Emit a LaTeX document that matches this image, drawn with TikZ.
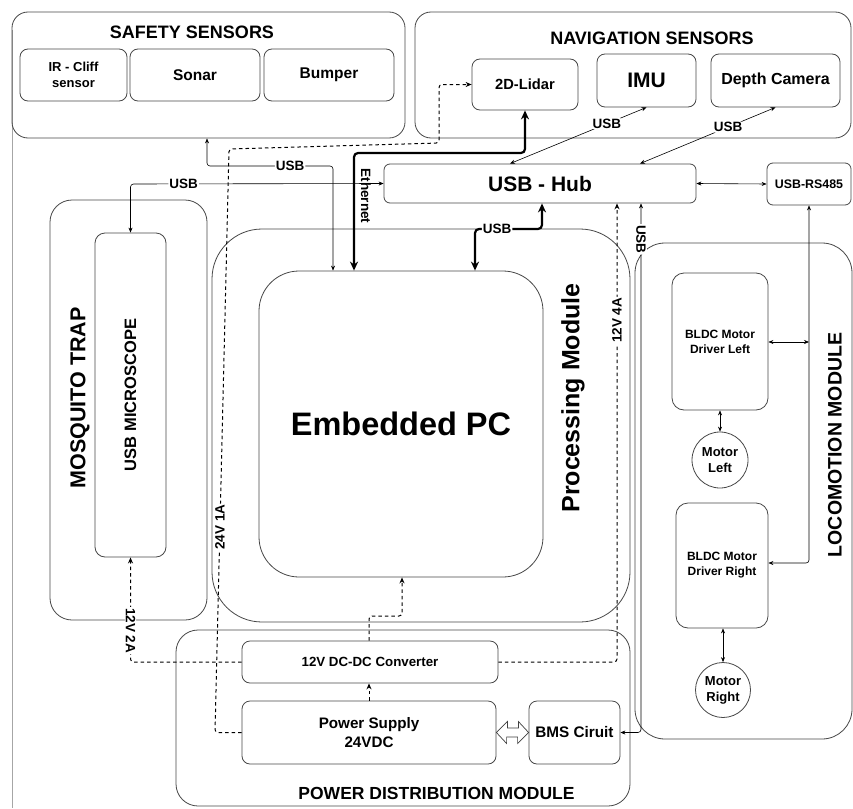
\documentclass[tikz,border=0pt]{standalone}
\usepackage{fontspec}
\setmainfont{Liberation Sans}
\usetikzlibrary{arrows.meta,calc}
\newcommand\myfs[2]{\fontsize{#1}{#2}\selectfont}
\begin{document}
\begin{tikzpicture}[x=1pt,y=-1pt,
  box/.style={draw=black!72, line width=0.8pt, rounded corners=#1, align=center, inner sep=0pt},
  box/.default=8pt,
  ar/.style={line width=0.6pt, black, {Stealth[length=5pt,width=4pt]}-{Stealth[length=5pt,width=4pt]}, rounded corners=3pt},
  thk/.style={line width=2.2pt, black, {Stealth[length=9pt,width=8pt]}-{Stealth[length=9pt,width=8pt]}, rounded corners=4pt},
  dsh/.style={line width=1pt, black, dash pattern=on 3.5pt off 3pt, -{Stealth[length=6pt,width=5pt]}, rounded corners=3pt},
  lbl/.style={fill=white, inner sep=1pt, font=\bfseries\myfs{13.5}{13.5}},
  ttl/.style={inner sep=0pt, font=\bfseries}
]
\useasboundingbox (0,0) rectangle (853,808);
\fill[white] (0,0) rectangle (853,808);
\draw[black!35, line width=0.6pt] (12.5,30) -- (12.5,808);

% ---------- Safety sensors
\node[box=16pt, minimum width=393, minimum height=126] (safety) at (208.5,75) {};
\node[ttl, font=\bfseries\myfs{18}{20}] (safetyT) at (192,32) {SAFETY SENSORS};
\node[box, minimum width=107, minimum height=52, font=\bfseries\myfs{13}{16.5}] (irc) at (73.5,75) {IR - Cliff\\sensor};
\node[box, minimum width=130, minimum height=52, font=\bfseries\myfs{15.5}{18}] (sonar) at (195,75) {Sonar};
\node[box, minimum width=130, minimum height=52, font=\bfseries\myfs{15.5}{18}] (bumper) at (329,75) {Bumper};

% ---------- Navigation sensors
\node[box=16pt, minimum width=436, minimum height=126] (nav) at (633,75) {};
\node[ttl, font=\bfseries\myfs{18}{20}] (navT) at (652,38) {NAVIGATION SENSORS};
\node[box, minimum width=106, minimum height=51, font=\bfseries\myfs{14.7}{16}] (lidar) at (525,84.5) {2D-Lidar};
\node[box, minimum width=99, minimum height=53, font=\bfseries\myfs{21}{24}] (imu) at (646.5,80.5) {IMU};
\node[box, minimum width=129, minimum height=53, font=\bfseries\myfs{16}{18}] (depth) at (775.5,80.5) {Depth Camera};

% ---------- Hub
\node[box=6pt, minimum width=312, minimum height=39, font=\bfseries\myfs{21}{24}] (hub) at (540,183.5) {USB - Hub};
\node[box=6pt, minimum width=84, minimum height=42, font=\bfseries\myfs{12.4}{14}] (rs485) at (809,184) {USB-RS485};

% ---------- Mosquito trap
\node[box=22pt, minimum width=157, minimum height=420] (mosq) at (128.5,410) {};
\node[ttl, rotate=90, font=\bfseries\myfs{21.5}{23}] (mosqT) at (80,398) {MOSQUITO TRAP};
\node[box=10pt, minimum width=71, minimum height=324] (micro) at (130.5,395) {};
\node[ttl, rotate=90, font=\bfseries\myfs{16.5}{18}] (microT) at (micro.center) {USB MICROSCOPE};

% ---------- Processing module
\node[box=50pt, minimum width=418, minimum height=393] (proc) at (421,425.5) {};
\node[ttl, rotate=90, font=\bfseries\myfs{25}{27}] (procT) at (573,398) {Processing Module};
\node[box=40pt, minimum width=284, minimum height=306, font=\bfseries\myfs{32.5}{36}] (pc) at (401,424) {Embedded PC};

% ---------- Power distribution module
\node[box=22pt, minimum width=454, minimum height=176] (pdm) at (403,718) {};
\node[ttl, font=\bfseries\myfs{17.5}{19}] (pdmT) at (436.5,793) {POWER DISTRIBUTION MODULE};
\node[box, minimum width=256, minimum height=42, font=\bfseries\myfs{13.3}{15}] (conv) at (370,662) {12V DC-DC Converter};
\node[box, minimum width=254, minimum height=63, font=\bfseries\myfs{15.2}{19}] (psu) at (369,732.5) {Power Supply\\24VDC};
\node[box, minimum width=91, minimum height=63, font=\bfseries\myfs{15.3}{18}] (bms) at (574.5,732.5) {BMS Ciruit};

% ---------- Locomotion module
\node[box=30pt, minimum width=217, minimum height=496] (loco) at (743.5,491) {};
\node[ttl, rotate=90, font=\bfseries\myfs{19.5}{22}] (locoT) at (835,445) {LOCOMOTION MODULE};
\node[box=12pt, minimum width=96, minimum height=137, font=\bfseries\myfs{12}{15}] (drvL) at (720,341.5) {BLDC Motor\\Driver Left};
\node[draw=black!72, line width=0.8pt, circle, minimum size=56, inner sep=0pt, align=center, font=\bfseries\myfs{13}{16}] (motL) at (720,460) {Motor\\Left};
\node[box=12pt, minimum width=92, minimum height=125, font=\bfseries\myfs{12}{15}] (drvR) at (722,565.5) {BLDC Motor\\Driver Right};
\node[draw=black!72, line width=0.8pt, circle, minimum size=55, inner sep=0pt, align=center, font=\bfseries\myfs{13}{16}] (motR) at (723,690) {Motor\\Right};

% ---------- bend coordinates
\coordinate (b1a) at (207,166);
\coordinate (b1b) at (333,166);
\coordinate (b2) at (130.5,184);
\coordinate (e1) at (354,153);
\coordinate (e2) at (525,153);
\coordinate (u1) at (542,229);
\coordinate (u2) at (475,229);
\coordinate (i1) at (510,0);
\coordinate (d1) at (640,0);
\coordinate (r1) at (809,342);
\coordinate (r2) at (809,563);
\coordinate (h1) at (641,732.5);
\coordinate (v1) at (617,662);
\coordinate (w1) at (130.5,662);
\coordinate (k1) at (369,616);
\coordinate (k2) at (402,616);
\coordinate (t1) at (215,732.5);
\coordinate (t2) at (229,149);
\coordinate (t3) at (439,143);
\coordinate (t4) at (439,84.5);

% ---------- connectors
\draw[ar] (safety.south -| b1a) -- (b1a) -- node[lbl, pos=0.66] (lab1) {USB} (b1b) -- (pc.north -| b1b);
\draw[ar] (hub.west) -- node[lbl, pos=0.79] (lab2) {USB} (b2) -- (micro.north -| b2);
\draw[thk] (pc.north -| e1) -- (e1) -- (e2) -- (lidar.south -| e2);
\node[ttl, rotate=-90, font=\bfseries\myfs{13.5}{15}] (ethT) at (366,196) {Ethernet};
\draw[thk] (hub.south -| u1) -- (u1) -- node[lbl, pos=0.67] (lab3) {USB} (u2) -- (pc.north -| u2);
\draw[ar] (hub.north -| i1) -- node[lbl, pos=0.71] (lab4) {USB} (imu.south);
\draw[ar] (hub.north -| d1) -- node[lbl, pos=0.65] (lab5) {USB} (depth.south);
\draw[ar] (hub.east) -- (rs485.west);
\draw[ar] (rs485.south) -- (r2) -- (drvR.east |- r2);
\draw[ar] (drvL.east |- r1) -- (r1);
\draw[ar] (drvL.south) -- (motL.north);
\draw[ar] (drvR.south -| motR.north) -- (motR.north);
\draw[ar] (hub.south -| h1) -- node[lbl, rotate=-90, pos=0.068] (lab6) {USB} (h1) -- (bms.east);

% dashed power lines
\draw[dsh] (conv.east) -- (v1) -- node[lbl, rotate=90, pos=0.745] (lab7) {12V 4A} (hub.south -| v1);
\draw[dsh] (psu.west) -- (t1) -- node[lbl, rotate=90, pos=0.352] (lab8) {24V 1A} (t2) -- (t3) -- (t4) -- (lidar.west);
\draw[dsh] (conv.west) -- (w1) -- node[lbl, rotate=-90, pos=0.3] (lab9) {12V 2A} (micro.south -| w1);
\draw[dsh] (conv.north -| k1) -- (k1) -- (k2) -- (pc.south -| k2);
\draw[dsh] (psu.north) -- (conv.south -| psu.north);

% open double arrow PSU <-> BMS
\draw[black!75, line width=0.7pt, fill=white, line join=miter]
  (psu.east) -- ++(11,-11) -- ++(0,6.5) -- ++(11,0) -- ++(0,-6.5) -- (bms.west)
  -- ++(-11,11) -- ++(0,-6.5) -- ++(-11,0) -- ++(0,6.5) -- cycle;
\end{tikzpicture}
\end{document}
